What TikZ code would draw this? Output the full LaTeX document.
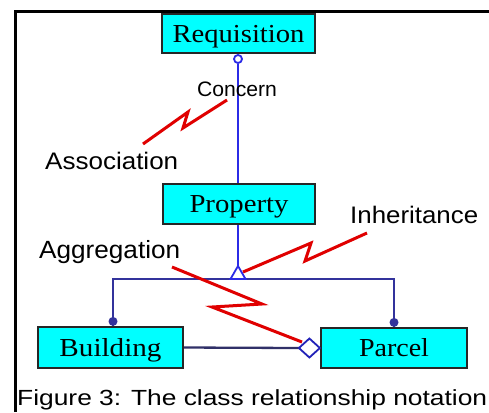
\documentclass[tikz,border=0pt]{standalone}
\usepackage{fontspec}
\setmainfont{Liberation Serif}
\setsansfont{Liberation Sans}
\usepackage{graphicx}
\usetikzlibrary{calc}
\definecolor{boxcyan}{HTML}{00FFFF}
\definecolor{lineblue}{HTML}{2B2BE6}
\definecolor{navyline}{HTML}{33339C}
\definecolor{darkline}{HTML}{303068}
\definecolor{boltred}{HTML}{E00000}
\newcommand{\fitw}[2]{\resizebox{#1}{\height}{#2}}
\begin{document}
\begin{tikzpicture}[x=1bp,y=-1bp,
  cls/.style={draw=black!85, line width=2.2bp, fill=boxcyan, inner sep=0pt,
    text height=17bp, text depth=0pt, font=\fontsize{26}{28}\selectfont},
  lbl/.style={inner sep=0pt, anchor=base west, font=\sffamily\fontsize{24}{26}\selectfont},
  bolt/.style={draw=boltred, line width=3bp, line join=miter},
  conn/.style={line width=2.3bp},
  markfill/.style={line width=1.8bp, fill=white},
]
\useasboundingbox (0,0) rectangle (489,412);
\fill[white] (0,0) rectangle (489,412);
\draw[line width=3bp] (15,412) -- (15,11) -- (489,11);

% classes
\node[cls, minimum width=153bp, minimum height=39bp] (req) at (238.5,33.5) {\fitw{132bp}{Requisition}};
\node[cls, minimum width=152bp, minimum height=40bp] (prop) at (239,204) {\fitw{99bp}{Property}};
\node[cls, minimum width=145bp, minimum height=41bp] (bld) at (110.5,347.5) {\fitw{102bp}{Building}};
\node[cls, minimum width=146bp, minimum height=40bp] (par) at (394,348) {\fitw{70bp}{Parcel}};

% association
\node[circle, draw=lineblue, markfill, minimum size=8bp, inner sep=0pt, anchor=north] (assoc) at ($(req.south)+(-0.5,0)$) {};
\draw[conn, lineblue] (assoc.south) -- (assoc.south |- prop.north);

% inheritance
\coordinate (triapex) at (238,266);
\coordinate (tribase) at (238,279);
\draw[conn, lineblue] (prop.south -| triapex) -- (triapex);
\draw[conn, navyline] ($(bld.north)+(2.5,0)$) |- (tribase) -| (par.north);
\draw[lineblue, markfill] (triapex) -- ++(-7.5,13) -- ++(15,0) -- cycle;
\fill[navyline] ($(bld.north)+(2.5,-4.5)$) circle (4.5);
\fill[navyline] ($(par.north)+(0,-4.5)$) circle (4.5);

% aggregation
\coordinate (diaw) at ($(par.west)+(-21,0)$);
\draw[conn, darkline] (bld.east) -- (diaw);
\draw[draw=lineblue!80!black, markfill] (par.west) -- ++(-10.5,-9.5) -- (diaw) -- ++(10.5,9.5) -- cycle;

% labels
\node[lbl, anchor=base, font=\sffamily\fontsize{21}{23}\selectfont] (lconcern) at (237,96.5) {\fitw{80bp}{Concern}};
\node[lbl] (lassoc) at (45,169) {\fitw{133bp}{Association}};
\node[lbl] (linh) at (350,223) {\fitw{128bp}{Inheritance}};
\node[lbl, font=\sffamily\fontsize{25}{27}\selectfont] (lagg) at (39,258.5) {\fitw{141bp}{Aggregation}};
\node[lbl, font=\sffamily\fontsize{22}{24}\selectfont] (cap) at (17,405) {\fitw{470bp}{Figure 3: The class relationship notation}};

% lightning pointers
\coordinate (b1) at (227,100);
\coordinate (b2) at (367,233);
\coordinate (b3) at (172,267);
\draw[bolt] (b1) -- (183,128) -- (188,112) -- (143,144);
\draw[bolt] (b2) -- (305,261) -- (311,243) -- (243,272);
\draw[bolt] (b3) -- (262,304) -- (212,307) -- (302,342);
\end{tikzpicture}
\end{document}
